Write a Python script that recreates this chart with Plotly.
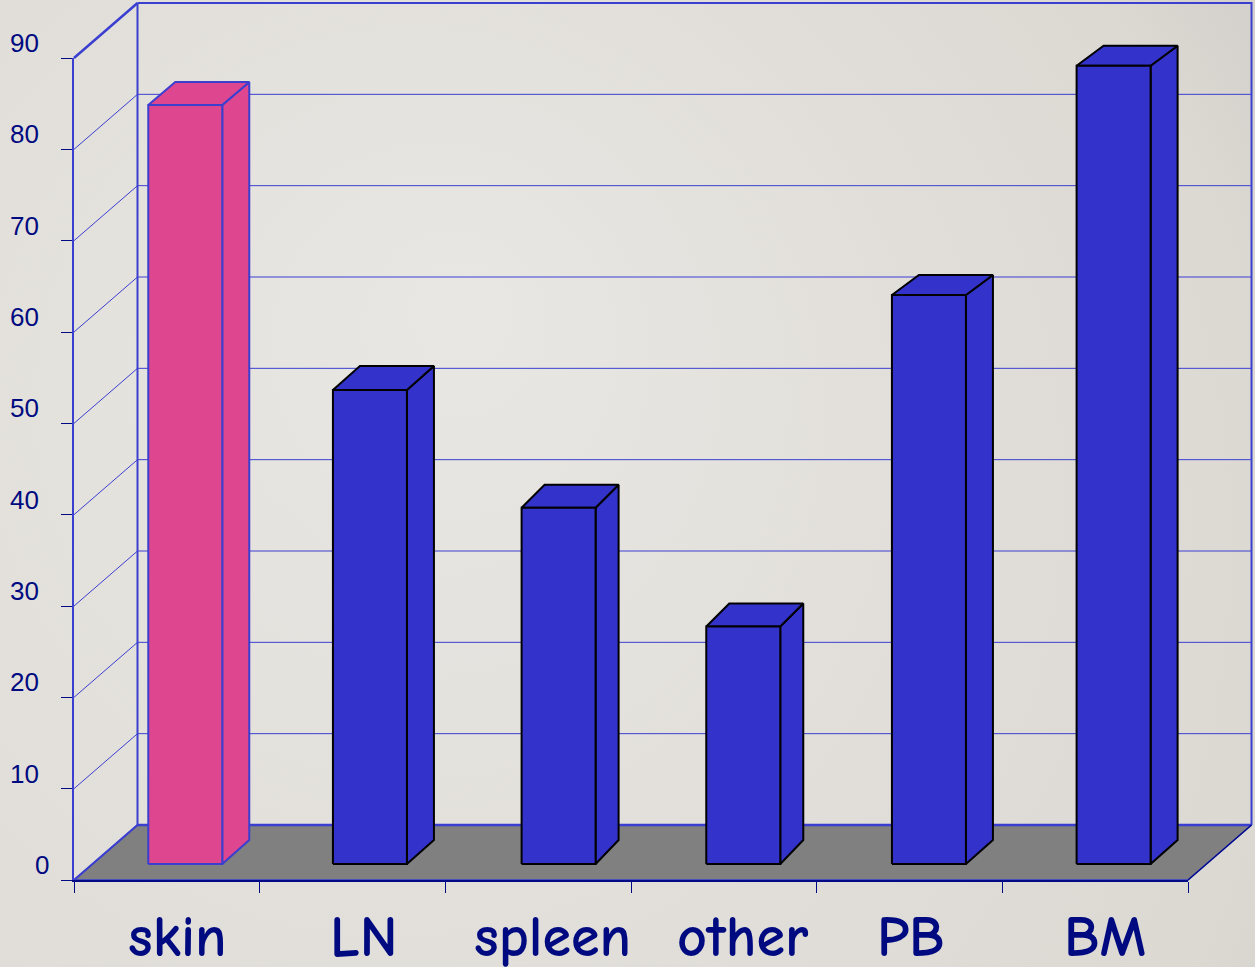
import base64
import plotly.graph_objects as go

# Data
categories = ["skin", "LN", "spleen", "other", "PB", "BM"]
values = [83.1, 51.9, 39.0, 26.0, 62.3, 87.4]
value_ticks = [0, 10, 20, 30, 40, 50, 60, 70, 80, 90]

# Page and plot geometry (pixels)
W, H = 1255, 967
L, R, T, B = 74, 1188, 58, 880
X_UNIT = (R - L) / 6
Y_UNIT = (B - T) / 90

# Perspective offsets, expressed in axis units
WALL_DX = 63.5 / X_UNIT
WALL_DY = 55 / Y_UNIT
BAR_LIFT = 16 / Y_UNIT
BAR_GAP = 0.4
BAR_W = 74 / X_UNIT
BAR_NUDGE = [0, -1, 2, 1, 1, 0]
BAR_DX = [27, 27, 23, 23, 27, 27]
BAR_BASE_DY = 24 / Y_UNIT
BAR_TOP_DY = [23, 24, 23, 23, 20, 20]

# Styling
WALL_BLUE = "#3a3fd0"
AXIS_NAVY = "#000a85"
TEXT_NAVY = "#000a80"
BAR_BLUE = "#3333cc"
BAR_PINK = "#de468f"
FLOOR = "#808080"
LABEL_FONT = "Comic Sans MS, Comic Neue, Lato, Noto Sans, sans-serif"
LABEL_NUDGE = [10, 11.5, 14, 19.5, 1, 10]
ZERO_NUDGE = 10

gradient_svg = f"""<svg xmlns="http://www.w3.org/2000/svg" width="{W}" height="{H}">
<defs><radialGradient id="g" gradientUnits="userSpaceOnUse" cx="300" cy="600" r="1100" fx="470" fy="300">
<stop offset="0" stop-color="#e9e7e3"/><stop offset="0.65" stop-color="#dfdcd7"/>
<stop offset="0.87" stop-color="#dcd9d3"/><stop offset="1" stop-color="#d5d2cd"/></radialGradient></defs>
<rect width="{W}" height="{H}" fill="url(#g)"/></svg>"""
gradient_uri = "data:image/svg+xml;base64," + base64.b64encode(gradient_svg.encode()).decode()

fig = go.Figure()


def poly(xs, ys, fill=None, color=WALL_BLUE, width=1.0):
    """Add a polygon or polyline on the full-page axes."""
    fig.add_trace(go.Scatter(
        x=xs, y=ys, mode="lines", cliponaxis=False, hoverinfo="skip", showlegend=False,
        fill="toself" if fill else "none", fillcolor=fill,
        line=dict(color=color, width=width, simplify=False),
    ))


# Floor
poly([0, WALL_DX, 6 + WALL_DX, 6, 0], [0, WALL_DY, WALL_DY, 0, 0], fill=FLOOR, color=WALL_BLUE, width=1.5)

# Back wall and side wall gridlines
for v in value_ticks[1:-1]:
    poly([0, WALL_DX, 6 + WALL_DX], [v, v + WALL_DY, v + WALL_DY], width=1)

# Wall outlines
poly([0, WALL_DX], [90, 90 + WALL_DY], width=2.5)
poly([WALL_DX, WALL_DX], [90 + WALL_DY, WALL_DY], width=2)
poly([WALL_DX, 6 + WALL_DX, 6 + WALL_DX], [90 + WALL_DY, 90 + WALL_DY, WALL_DY], width=2)
poly([WALL_DX, 6 + WALL_DX], [WALL_DY, WALL_DY], width=2.5)
poly([0, WALL_DX], [0, WALL_DY], width=2)
poly([6, 6 + WALL_DX], [0, WALL_DY], color=AXIS_NAVY, width=1.2)

# Extruded bars
for i, v in enumerate(values):
    fill = BAR_PINK if categories[i] == "skin" else BAR_BLUE
    edge = WALL_BLUE if categories[i] == "skin" else "#000000"
    x0 = i + BAR_GAP + BAR_NUDGE[i] / X_UNIT
    x1 = x0 + BAR_W
    dx = BAR_DX[i] / X_UNIT
    y0, y1 = BAR_LIFT, v + BAR_LIFT
    rise = BAR_TOP_DY[i] / Y_UNIT
    # side face
    poly([x1, x1 + dx, x1 + dx, x1, x1],
         [y0, y0 + BAR_BASE_DY, y1 + rise, y1, y0], fill=fill, color=edge, width=2)
    # top face
    poly([x0, x0 + dx, x1 + dx, x1, x0],
         [y1, y1 + rise, y1 + rise, y1, y1], fill=fill, color=edge, width=2)
    # front face
    poly([x0, x1, x1, x0, x0], [y0, y0, y1, y1, y0], fill=fill, color=edge, width=2)

annotations = []
# Value labels sit a little above their ticks
for v in value_ticks:
    annotations.append(dict(
        x=0, y=v, xref="x", yref="y", text=str(v), showarrow=False,
        xanchor="right", yanchor="middle",
        xshift=-33 + (ZERO_NUDGE if v == 0 else 0), yshift=15,
        font=dict(family="Liberation Sans, Arial, sans-serif", size=26, color=TEXT_NAVY),
    ))
# Category labels
for i, name in enumerate(categories):
    annotations.append(dict(
        x=i + 0.5, y=0, xref="x", yref="y", text=f"<b>{name}</b>", showarrow=False,
        xanchor="center", yanchor="middle", xshift=LABEL_NUDGE[i], yshift=-57,
        font=dict(family=LABEL_FONT, size=58, color=TEXT_NAVY),
    ))

# Invisible anchor so the framed axes below get drawn
fig.add_trace(go.Scatter(x=[0, 6], y=[0, 90], xaxis="x2", yaxis="y2", mode="none",
                         hoverinfo="skip", showlegend=False))

fig.update_layout(
    width=W, height=H,
    margin=dict(l=0, r=0, t=0, b=0, pad=0, autoexpand=False),
    paper_bgcolor="#dedbd5", plot_bgcolor="rgba(0,0,0,0)",
    showlegend=False,
    annotations=annotations,
    images=[dict(
        source=gradient_uri, xref="paper", yref="paper",
        x=0, y=1, sizex=1, sizey=1,
        xanchor="left", yanchor="top", sizing="stretch", layer="below",
    )],
    # Full-page axes share the units of the framed axes and carry the drawing
    xaxis=dict(range=[-L / X_UNIT, (W - L) / X_UNIT], visible=False, domain=[0, 1]),
    yaxis=dict(range=[-(H - B) / Y_UNIT, B / Y_UNIT], visible=False, domain=[0, 1]),
    # Framed axes: the visible axis lines and ticks
    xaxis2=dict(
        domain=[L / W, R / W], anchor="y2", range=[0, 6],
        tickmode="array", tickvals=list(range(7)), showticklabels=False,
        ticks="outside", ticklen=11, tickwidth=1, tickcolor=AXIS_NAVY,
        showgrid=False, zeroline=False, showline=True, linecolor=AXIS_NAVY, linewidth=1.5,
    ),
    yaxis2=dict(
        domain=[(H - B) / H, (H - T) / H], anchor="x2", range=[0, 90],
        tickmode="array", tickvals=value_ticks, showticklabels=False,
        ticks="outside", ticklen=11, tickwidth=1, tickcolor=AXIS_NAVY,
        showgrid=False, zeroline=False, showline=True, linecolor=WALL_BLUE, linewidth=1.5,
    ),
)

fig.write_html("out.html", config=dict(displayModeBar=False))
